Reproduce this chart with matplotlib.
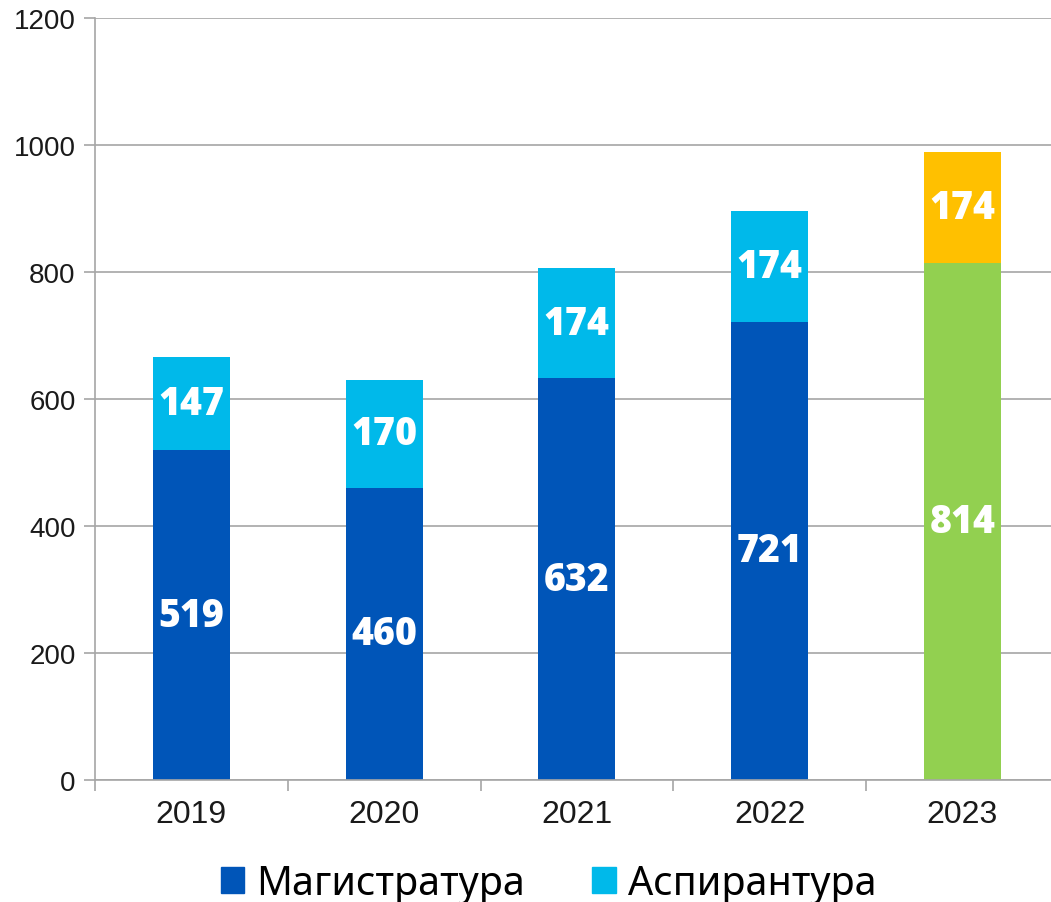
import matplotlib.pyplot as plt
from matplotlib.patches import Patch

plt.rcParams["font.family"] = ["Liberation Sans", "DejaVu Sans"]

years = ["2019", "2020", "2021", "2022", "2023"]
masters = [519, 460, 632, 721, 814]
phd = [147, 170, 174, 174, 174]
masters_colors = ["#0055B8", "#0055B8", "#0055B8", "#0055B8", "#92D050"]
phd_colors = ["#00B9EA", "#00B9EA", "#00B9EA", "#00B9EA", "#FFC000"]

fig = plt.figure(figsize=(10.51, 9.03), dpi=100)
ax = fig.add_axes([0.0904, 0.1351, 0.917, 0.8444])

x = list(range(len(years)))
b1 = ax.bar(x, masters, width=0.4, color=masters_colors, zorder=2)
b2 = ax.bar(x, phd, width=0.4, bottom=masters, color=phd_colors, zorder=2)

for rects, vals, bottoms in [(b1, masters, [0] * 5), (b2, phd, masters)]:
    for r, v, b in zip(rects, vals, bottoms):
        ax.text(r.get_x() + r.get_width() / 2, b + v / 2, str(v),
                ha="center", va="center", color="white", fontsize=27,
                fontweight="heavy", family="Open Sans", zorder=3)

ax.set_xlim(-0.5, 4.5)
ax.set_ylim(0, 1200)
ax.set_yticks(range(0, 1201, 200))
ax.set_xticks(x)
ax.set_xticklabels(years)
ax.set_xticks([i - 0.5 for i in range(6)], minor=True)

ax.grid(axis="y", color="#A6A6A6", linewidth=1.2, zorder=1)
ax.tick_params(axis="y", length=8, color="#A6A6A6", width=1.2, pad=6,
               labelsize=20, labelcolor="#1a1a1a")
ax.tick_params(axis="x", which="major", length=0, pad=14, labelsize=23,
               labelcolor="#1a1a1a")
ax.tick_params(axis="x", which="minor", length=8, color="#A6A6A6", width=1.2)
for s in ["top", "right"]:
    ax.spines[s].set_visible(False)
for s in ["left", "bottom"]:
    ax.spines[s].set_color("#A6A6A6")
    ax.spines[s].set_linewidth(1.2)

handles = [Patch(color="#0055B8", label="Магистратура"),
           Patch(color="#00B9EA", label="Аспирантура")]
fig.legend(handles=handles, loc="center", bbox_to_anchor=(0.522, 0.02),
           ncol=2, frameon=False, handlelength=0.6, handleheight=0.6,
           handletextpad=0.3, columnspacing=1.7,
           prop={"family": "Noto Sans", "size": 28.5})

fig.savefig("out.png", dpi=100)
